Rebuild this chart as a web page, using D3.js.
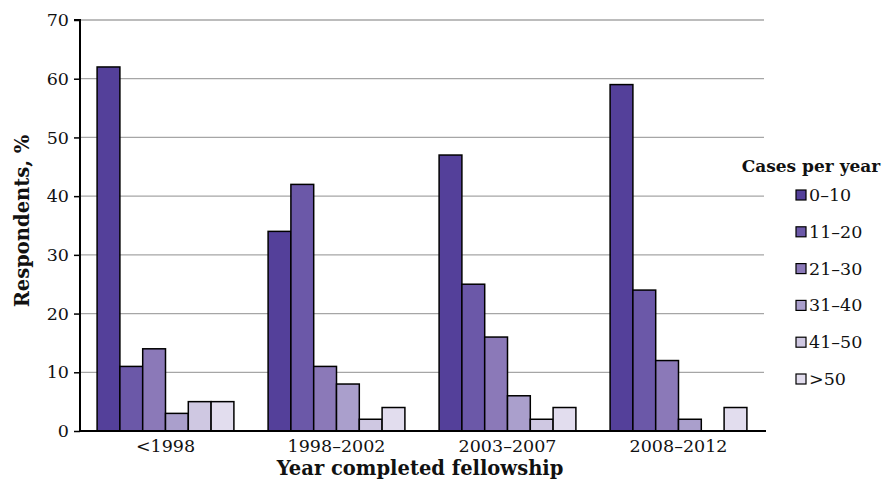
<!DOCTYPE html>
<html><head><meta charset="utf-8">
<script src="https://cdn.jsdelivr.net/npm/d3@7"></script>
<style>body{margin:0;background:#fff;} svg{display:block;font-family:"DejaVu Serif",serif;}</style>
</head><body><svg id="c" width="882" height="485"></svg>
<script>
const categories = ["<1998", "1998–2002", "2003–2007", "2008–2012"];
const seriesNames = ["0–10", "11–20", "21–30", "31–40", "41–50", ">50"];
const s0_10 = [62, 34, 47, 59];
const s11_20 = [11, 42, 25, 24];
const s21_30 = [14, 11, 16, 12];
const s31_40 = [3, 8, 6, 2];
const s41_50 = [5, 2, 2, 0];
const s50plus = [5, 4, 4, 4];
const yTicks = [0, 10, 20, 30, 40, 50, 60, 70];
const colors = ["#54409a", "#6b58a8", "#8b79b8", "#aa9fcc", "#cfc8e2", "#e2ddee"];
const series = [s0_10, s11_20, s21_30, s31_40, s41_50, s50plus];
const FONT = "DejaVu Serif";

const svg = d3.select("#c");
const m = {l: 80, r: 764, t: 20, b: 431};
const x0 = d3.scaleBand().domain(categories).range([m.l, m.r]).paddingInner(0.2).paddingOuter(0.1);
const x1 = d3.scaleBand().domain(d3.range(seriesNames.length)).range([0, x0.bandwidth()]);
const y = d3.scaleLinear().domain([0, 70]).range([m.b, m.t]);

// gridlines
svg.append("g").selectAll("line").data(yTicks.filter(d => d > 0)).join("line")
  .attr("x1", m.l).attr("x2", m.r).attr("y1", d => y(d)).attr("y2", d => y(d))
  .attr("stroke", "#a6a6a6").attr("stroke-width", 1.3);

// bars
const g = svg.append("g");
categories.forEach((c, ci) => {
  series.forEach((s, si) => {
    if (s[ci] <= 0) return;
    g.append("rect")
      .attr("x", x0(c) + x1(si)).attr("y", y(s[ci]))
      .attr("width", x1.bandwidth()).attr("height", y(0) - y(s[ci]))
      .attr("fill", colors[si]).attr("stroke", "#000").attr("stroke-width", 1.5);
  });
});

// y axis
const ya = svg.append("g").attr("transform", `translate(${m.l},0)`)
  .call(d3.axisLeft(y).tickValues(yTicks).tickSize(6).tickPadding(5));
ya.select(".domain").attr("stroke", "#000").attr("stroke-width", 2).attr("d", `M-6,${m.t}H0V${m.b}`);
ya.selectAll(".tick line").attr("stroke", "#000").attr("stroke-width", 1.5);
ya.selectAll("text").attr("font-family", FONT).attr("font-size", 17.5).attr("fill", "#111");

// x axis
const xa = svg.append("g").attr("transform", `translate(0,${m.b})`)
  .call(d3.axisBottom(x0).tickSize(0).tickPadding(9));
xa.select(".domain").attr("stroke", "#000").attr("stroke-width", 2.2).attr("d", `M${m.l},0H${m.r + 2}`);
xa.selectAll("text").attr("font-family", FONT).attr("font-size", 17.5).attr("fill", "#111");

// axis titles
svg.append("text").attr("x", 420).attr("y", 475).attr("text-anchor", "middle")
  .attr("font-weight", "bold").attr("font-size", 19.5).attr("fill", "#111").text("Year completed fellowship");
svg.append("text").attr("transform", `translate(29,221) rotate(-90)`).attr("text-anchor", "middle")
  .attr("font-weight", "bold").attr("font-size", 19.5).attr("fill", "#111").text("Respondents, %");

// legend
const lg = svg.append("g");
lg.append("text").attr("x", 811).attr("y", 172).attr("text-anchor", "middle")
  .attr("font-weight", "bold").attr("font-size", 17).attr("fill", "#111").text("Cases per year");
seriesNames.forEach((n, i) => {
  const yy = 195 + i * 36.8;
  lg.append("rect").attr("x", 796).attr("y", yy - 5).attr("width", 10).attr("height", 10)
    .attr("fill", colors[i]).attr("stroke", "#000").attr("stroke-width", 1.2);
  lg.append("text").attr("x", 809).attr("y", yy + 6).attr("font-size", 17.5).attr("fill", "#111").text(n);
});
</script></body></html>
